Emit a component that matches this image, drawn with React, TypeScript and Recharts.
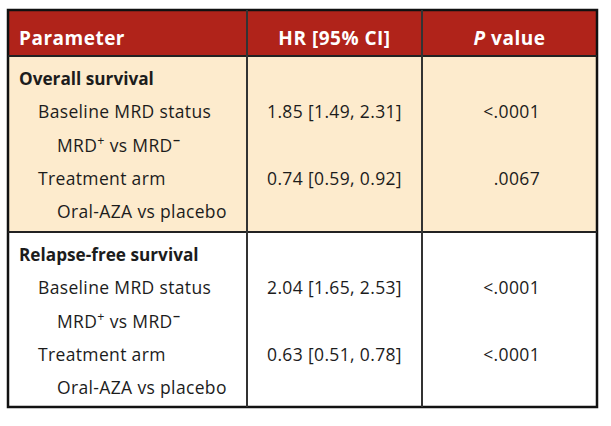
import {
  ComposedChart, Scatter, XAxis, YAxis, ReferenceArea, ReferenceLine,
} from 'recharts';

const headers = ['Parameter', 'HR [95% CI]', 'P value'];
const sectionTitles = ['Overall survival', 'Relapse-free survival'];
const comparisons = ['Baseline MRD status', 'Treatment arm'];
const contrasts = ['MRD+ vs MRD−', 'Oral-AZA vs placebo'];
const hazardRatios = ['1.85 [1.49, 2.31]', '0.74 [0.59, 0.92]', '2.04 [1.65, 2.53]', '0.63 [0.51, 0.78]'];
const pValues = ['<.0001', '.0067', '<.0001', '<.0001'];

const W = 611;
const H = 426;
const FONT = '"Open Sans", Lato, sans-serif';
const RED = '#b0231a';
const BEIGE = '#fdebcd';
const INK = '#1c1c1c';

// table frame (px)
const left = 8;
const right = 597;
const top = 10;
const headBottom = 56;
const divider = 232;
const bottom = 407;
const col1 = 247;
const col2 = 422;
const sectionTops = [headBottom, divider];
const rowStep = 33.3;

type Cell = { x: number; y: number; text: string; kind: string; anchor: string };

const cells: Cell[] = [];
cells.push({ x: 19, y: 45, text: headers[0], kind: 'head', anchor: 'start' });
cells.push({ x: (col1 + col2) / 2, y: 45, text: headers[1], kind: 'head', anchor: 'middle' });
cells.push({ x: (col2 + right) / 2, y: 45, text: headers[2], kind: 'headP', anchor: 'middle' });

sectionTitles.forEach((title, s) => {
  const base = sectionTops[s] + 29;
  cells.push({ x: 19, y: base, text: title, kind: 'section', anchor: 'start' });
  comparisons.forEach((cmp, c) => {
    const y1 = base + rowStep * (1 + 2 * c);
    const y2 = base + rowStep * (2 + 2 * c);
    cells.push({ x: 38, y: y1, text: cmp, kind: 'body', anchor: 'start' });
    cells.push({ x: 57, y: y2, text: contrasts[c], kind: c === 0 ? 'mrd' : 'body', anchor: 'start' });
    cells.push({ x: (col1 + col2) / 2, y: y1, text: hazardRatios[s * 2 + c], kind: 'body', anchor: 'middle' });
    cells.push({ x: 540, y: y1, text: pValues[s * 2 + c], kind: 'body', anchor: 'end' });
  });
});

function CellText(props: any) {
  const { cx, cy, payload } = props;
  const d = payload as Cell;
  const common = { x: cx, y: cy, textAnchor: d.anchor, fontFamily: FONT } as any;
  if (d.kind === 'head') {
    return <text {...common} fill="#fff" fontWeight={700} fontSize={19} letterSpacing={0.5}>{d.text}</text>;
  }
  if (d.kind === 'headP') {
    return (
      <text {...common} fill="#fff" fontWeight={700} fontSize={19} letterSpacing={0.5}>
        <tspan fontStyle="italic">P</tspan>{d.text.slice(1)}
      </text>
    );
  }
  if (d.kind === 'section') {
    return <text {...common} fill={INK} fontWeight={700} fontSize={17.2}>{d.text}</text>;
  }
  if (d.kind === 'mrd') {
    return (
      <text {...common} fill={INK} fontSize={17.5} letterSpacing={0.35}>
        MRD<tspan dy={-7} fontSize={12.5}>+</tspan>
        <tspan dy={7}> vs MRD</tspan>
        <tspan dy={-7} fontSize={12.5} fontWeight={700}>−</tspan>
      </text>
    );
  }
  return <text {...common} fill={INK} fontSize={17.5} letterSpacing={0.35}>{d.text}</text>;
}

export default function App() {
  return (
    <div style={{ position: 'absolute', left: 0, top: 0, background: '#fff' }}>
      <ComposedChart width={W} height={H} data={cells} margin={{ top: 0, right: 0, bottom: 0, left: 0 }}>
        <XAxis type="number" dataKey="x" domain={[0, W]} hide />
        <YAxis type="number" dataKey="y" domain={[0, H]} reversed hide />
        <ReferenceArea x1={left} x2={right} y1={top} y2={headBottom} fill={RED} fillOpacity={1} />
        <ReferenceArea x1={left} x2={right} y1={headBottom} y2={divider} fill={BEIGE} fillOpacity={1} />
        <ReferenceLine segment={[{ x: left, y: headBottom }, { x: right, y: headBottom }]} stroke="#222" strokeWidth={2} />
        <ReferenceLine segment={[{ x: left, y: divider }, { x: right, y: divider }]} stroke="#222" strokeWidth={2} />
        <ReferenceLine segment={[{ x: col1, y: top }, { x: col1, y: bottom }]} stroke="#333" strokeWidth={2} />
        <ReferenceLine segment={[{ x: col2, y: top }, { x: col2, y: bottom }]} stroke="#333" strokeWidth={2} />
        <ReferenceArea x1={left} x2={right} y1={top} y2={bottom} fill="none" stroke="#111" strokeWidth={2.5} />
        <Scatter dataKey="y" shape={CellText} isAnimationActive={false} />
      </ComposedChart>
    </div>
  );
}
